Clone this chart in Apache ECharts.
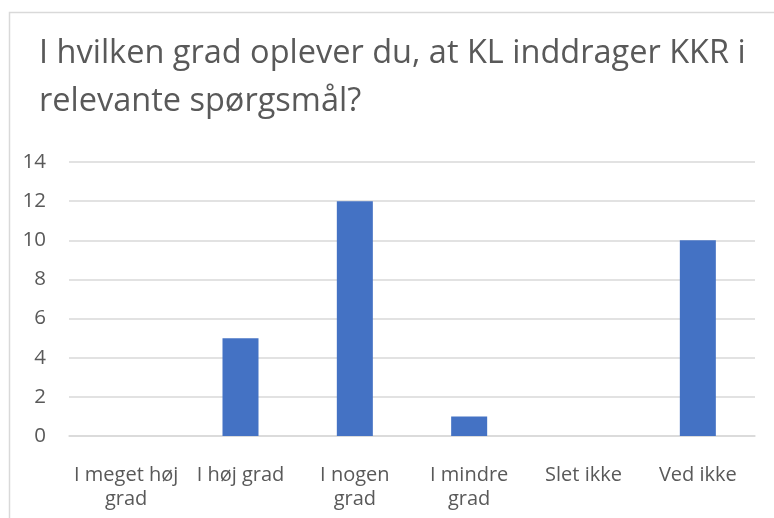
<!DOCTYPE html>
<html style="height: 100%;width: 100%">
<head>
    <meta charset="UTF-8">
    <script type="text/javascript" src="https://cdn.jsdelivr.net/npm/echarts@6/dist/echarts.min.js"></script>
    <title>KL og KKR</title>
    <style>
        html, body { margin: 0; padding: 0; background: #fff; }
    </style>
</head>
<body>
<div id="main" style="width: 774px;height:518px;"></div>
<script type="text/javascript">
    // data
    var categories = ['I meget høj\ngrad', 'I høj grad', 'I nogen\ngrad', 'I mindre\ngrad', 'Slet ikke', 'Ved ikke'];
    var values = [0, 5, 12, 1, 0, 10];
    var yTicks = [0, 2, 4, 6, 8, 10, 12, 14];

    var myChart = echarts.init(document.getElementById('main'));
    var txt = '#595959';
    var fnt = '"Open Sans", "Noto Sans", sans-serif';

    var option = {
        animation: false,
        textStyle: { fontFamily: fnt },
        graphic: [{
            type: 'rect',
            shape: { x: 9.5, y: 12.5, width: 800, height: 600 },
            style: { fill: 'none', stroke: '#d9d9d9', lineWidth: 1.5 }
        }],
        title: {
            text: 'I hvilken grad oplever du, at KL inddrager KKR i\nrelevante spørgsmål?',
            left: 34,
            top: 25,
            textStyle: { color: txt, fontSize: 32.5, fontWeight: 'normal', fontFamily: fnt, lineHeight: 48 }
        },
        grid: { left: 69, right: 19, top: 162, bottom: 82 },
        xAxis: {
            type: 'category',
            data: categories,
            axisLine: { lineStyle: { color: '#d9d9d9', width: 1.5 } },
            axisTick: { show: false },
            axisLabel: { color: txt, fontSize: 20, margin: 27, lineHeight: 24, fontFamily: fnt, interval: 0 }
        },
        yAxis: {
            type: 'value',
            min: yTicks[0],
            max: yTicks[yTicks.length - 1],
            interval: 2,
            axisLine: { show: false },
            axisTick: { show: false },
            splitLine: { lineStyle: { color: '#d9d9d9', width: 1.5 } },
            axisLabel: { color: txt, fontSize: 20.5, margin: 23, fontFamily: fnt }
        },
        series: [{
            type: 'bar',
            data: values,
            barWidth: '31.5%',
            itemStyle: { color: '#4472C4' }
        }]
    };

    myChart.setOption(option);
</script>
</body>
</html>
